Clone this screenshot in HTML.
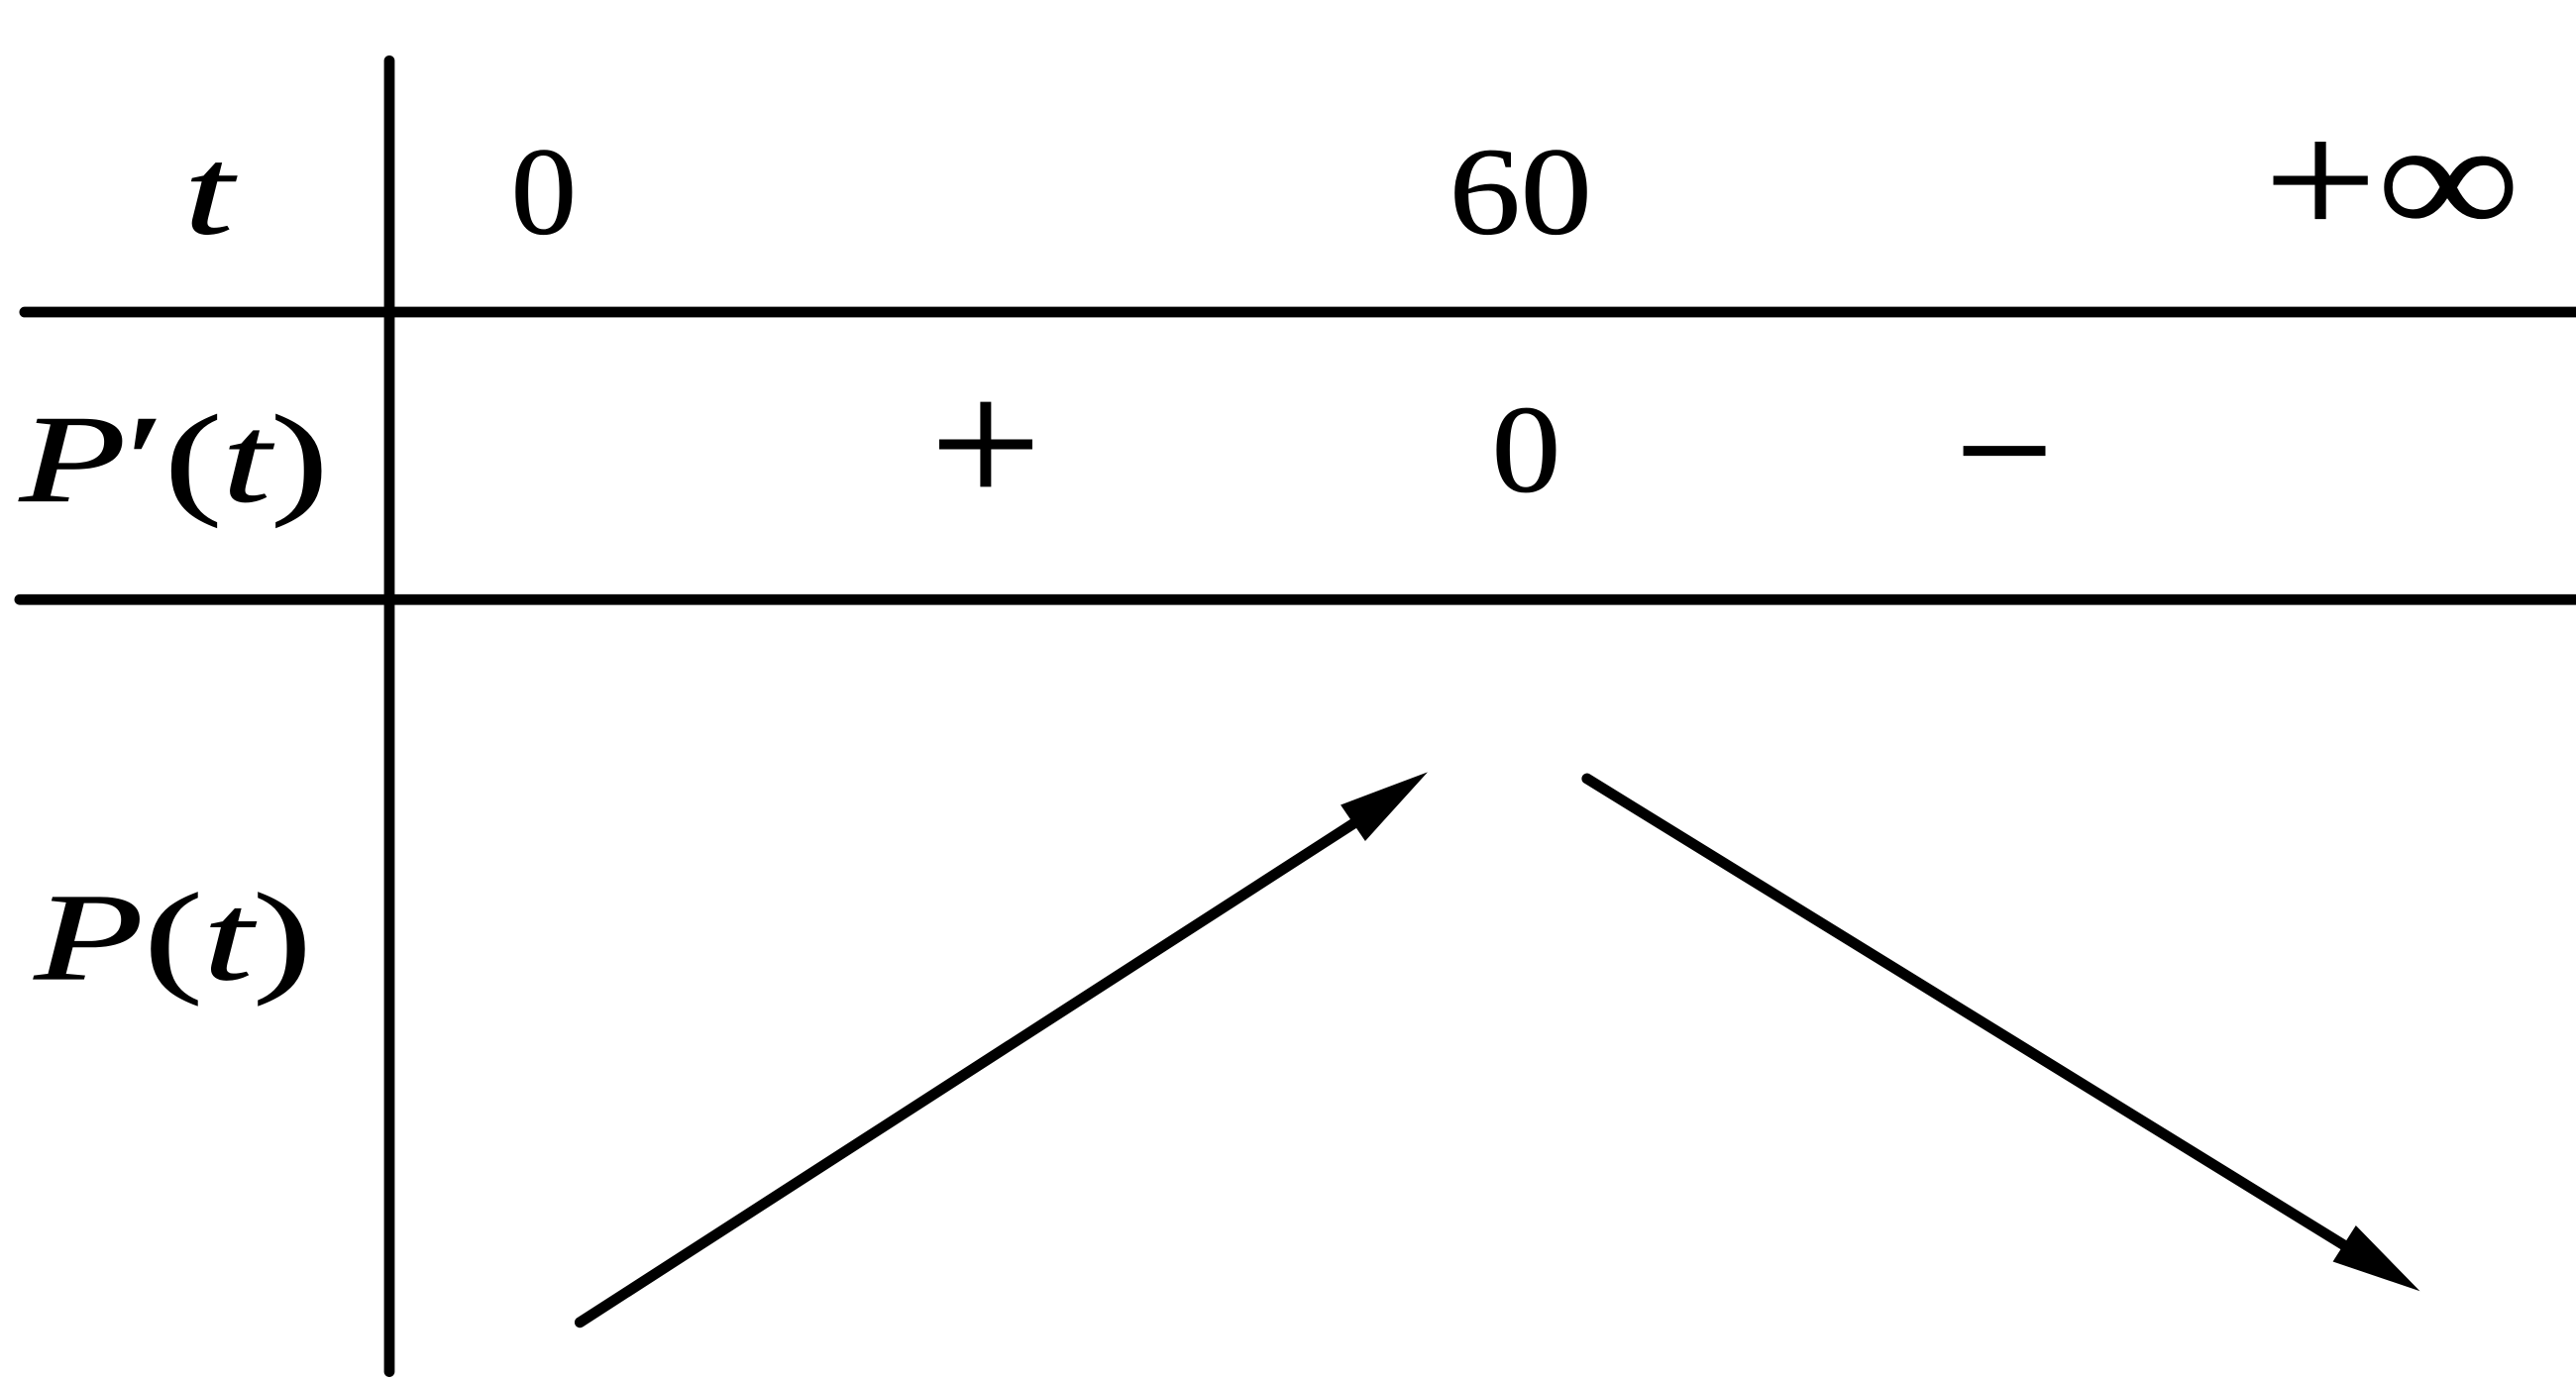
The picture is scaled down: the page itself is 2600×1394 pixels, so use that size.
<!DOCTYPE html>
<html><head><style>html,body{margin:0;padding:0;background:#fff;}svg{display:block}</style></head>
<body>
<svg width="2600" height="1394" viewBox="0 0 1568 840.7" preserveAspectRatio="none" xmlns="http://www.w3.org/2000/svg">
<g stroke="#000" stroke-width="6.5" stroke-linecap="round" fill="none">
<line x1="237" y1="37" x2="237" y2="835"/>
<line x1="15" y1="190" x2="1570" y2="190"/>
<line x1="12" y1="365" x2="1570" y2="365"/>
<line x1="353" y1="805" x2="826" y2="500"/>
<line x1="966" y1="474" x2="1430" y2="760"/>
</g>
<polygon points="869,470 816,490 831,512" fill="#000"/>
<polygon points="1473,786 1434,746 1420,768" fill="#000"/>
<g font-family="Liberation Serif, serif" font-size="76" fill="#000" stroke="#000" stroke-width="0.5">
<text x="112" y="142" font-style="italic" textLength="30" lengthAdjust="spacingAndGlyphs">t</text>
<text x="311" y="142" textLength="40" lengthAdjust="spacingAndGlyphs">0</text>
<text x="882" y="142" textLength="87" lengthAdjust="spacingAndGlyphs">60</text>
<text x="1378" y="143" textLength="156" lengthAdjust="spacingAndGlyphs" font-size="100">+∞</text>
<text x="12" y="305" textLength="188" lengthAdjust="spacingAndGlyphs"><tspan font-style="italic">P</tspan>′(<tspan font-style="italic">t</tspan>)</text>
<text x="566" y="307" textLength="68" lengthAdjust="spacingAndGlyphs" font-size="110">+</text>
<text x="908" y="299" textLength="42" lengthAdjust="spacingAndGlyphs">0</text>
<text x="1190" y="311" textLength="60" lengthAdjust="spacingAndGlyphs" font-size="110">−</text>
<text x="21" y="596" textLength="169" lengthAdjust="spacingAndGlyphs"><tspan font-style="italic">P</tspan>(<tspan font-style="italic">t</tspan>)</text>
</g>
</svg>
</body></html>
